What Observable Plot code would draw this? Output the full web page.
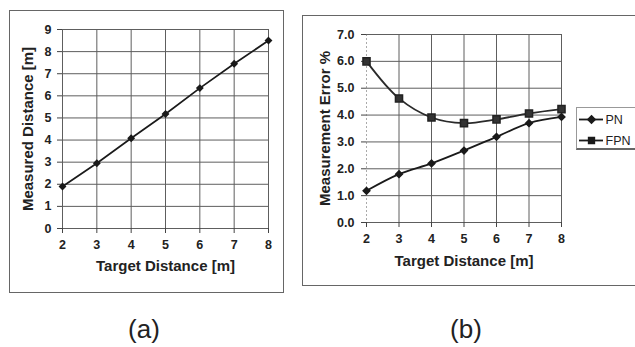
<!DOCTYPE html>
<html>
<head>
<meta charset="utf-8">
<script src="https://cdn.jsdelivr.net/npm/d3@7"></script>
<script src="https://cdn.jsdelivr.net/npm/@observablehq/plot@0.6"></script>
<style>
  html, body { margin: 0; padding: 0; background: #fff; }
  body { width: 635px; height: 347px; position: relative; overflow: hidden; font-family: "Liberation Sans", Arial, sans-serif; }
  .frame { position: absolute; border: 1px solid #666; box-sizing: border-box; }
  .abs { position: absolute; }
  .panel-label { position: absolute; font-size: 26px; color: #222; transform: translateX(-50%); line-height: 1; }
  #legend { position: absolute; left: 576px; top: 107px; width: 70px; height: 43px; border: 1px solid #999; border-bottom: 2px solid #666; box-sizing: border-box; background: #fff; }
  #legend svg { display: block; overflow: visible; }
  svg text { font-family: "Liberation Sans", Arial, sans-serif; }
</style>
</head>
<body>
<div class="frame" style="left:9px;top:10px;width:275px;height:283px;"></div>
<div class="frame" style="left:302px;top:15px;width:340px;height:271px;"></div>
<div id="plotA" class="abs" style="left:10px;top:10px;"></div>
<div id="plotB" class="abs" style="left:302px;top:15px;"></div>
<div id="legend"></div>
<div class="panel-label" style="left:144px;top:316px;">(a)</div>
<div class="panel-label" style="left:466px;top:316px;">(b)</div>
<script>
// ---- data ----
const targetDistance = [2, 3, 4, 5, 6, 7, 8];
const measuredDistance = [1.9, 2.95, 4.08, 5.18, 6.35, 7.45, 8.5];
const errorPN = [1.18, 1.8, 2.2, 2.68, 3.19, 3.7, 3.93];
const errorFPN = [6.0, 4.62, 3.91, 3.7, 3.84, 4.06, 4.22];
const yTicksA = [0, 1, 2, 3, 4, 5, 6, 7, 8, 9];
const yTicksB = [0, 1, 2, 3, 4, 5, 6, 7];
const seriesNames = ["PN", "FPN"];
const xTitle = "Target Distance [m]";
const yTitleA = "Measured Distance [m]";
const yTitleB = "Measurement Error %";

const dataA = targetDistance.map((x, i) => ({x, y: measuredDistance[i]}));
const dataPN = targetDistance.map((x, i) => ({x, y: errorPN[i]}));
const dataFPN = targetDistance.map((x, i) => ({x, y: errorFPN[i]}));

const ink = "#1a1a1a";
const gridColor = "#5e5e5e";

const plotA = Plot.plot({
  width: 273, height: 282,
  marginLeft: 52, marginRight: 15, marginTop: 19, marginBottom: 64,
  style: {background: "transparent", fontFamily: "Liberation Sans, Arial, sans-serif"},
  x: {domain: [2, 8]},
  y: {domain: [0, 9]},
  marks: [
    Plot.gridX(targetDistance, {stroke: gridColor, strokeOpacity: 1}),
    Plot.gridY(yTicksA, {stroke: gridColor, strokeOpacity: 1}),
    Plot.axisX(targetDistance, {tickSize: 5, tickPadding: 7, fontWeight: "bold", fontSize: 12.5, fill: "#222", stroke: "#444", label: null}),
    Plot.axisY(yTicksA, {tickSize: 5, tickPadding: 6, fontWeight: "bold", fontSize: 12.5, fill: "#222", stroke: "#444", label: null}),
    Plot.line(dataA, {x: "x", y: "y", stroke: ink, strokeWidth: 1.7}),
    Plot.dot(dataA, {x: "x", y: "y", symbol: "diamond2", r: 2.6, fill: ink, stroke: ink}),
    Plot.text([xTitle], {frameAnchor: "bottom", dy: 42, text: d => d, fontSize: 15, fontWeight: "bold", fill: "#222"}),
    Plot.text([yTitleA], {frameAnchor: "left", dx: -34, rotate: -90, textAnchor: "middle", text: d => d, fontSize: 15, fontWeight: "bold", fill: "#222"})
  ]
});
document.getElementById("plotA").appendChild(plotA);

const plotB = Plot.plot({
  width: 274, height: 270,
  marginLeft: 64, marginRight: 15, marginTop: 19, marginBottom: 63,
  style: {background: "transparent", fontFamily: "Liberation Sans, Arial, sans-serif"},
  x: {domain: [2, 8]},
  y: {domain: [0, 7]},
  marks: [
    Plot.gridX(targetDistance.slice(1), {stroke: gridColor, strokeOpacity: 1}),
    Plot.gridX([2], {stroke: "#aaa", strokeOpacity: 1, strokeDasharray: "2,2"}),
    Plot.gridY(yTicksB, {stroke: gridColor, strokeOpacity: 1}),
    Plot.axisX(targetDistance, {tickSize: 5, tickPadding: 7, fontWeight: "bold", fontSize: 12.5, fill: "#222", stroke: "#444", label: null}),
    Plot.axisY(yTicksB, {tickSize: 5, tickPadding: 7, tickFormat: d3.format(".1f"), fontWeight: "bold", fontSize: 12.5, fill: "#222", stroke: "#444", label: null}),
    Plot.line(dataFPN, {x: "x", y: "y", curve: "catmull-rom", stroke: "#2a2a2a", strokeWidth: 1.8}),
    Plot.line(dataPN, {x: "x", y: "y", curve: "catmull-rom", stroke: ink, strokeWidth: 1.8}),
    Plot.dot(dataPN, {x: "x", y: "y", symbol: "diamond2", r: 3, fill: ink, stroke: ink}),
    Plot.dot(dataFPN, {x: "x", y: "y", symbol: "square", r: 4, fill: "#333", stroke: "#222"}),
    Plot.text([xTitle], {frameAnchor: "bottom", dy: 43, text: d => d, fontSize: 15, fontWeight: "bold", fill: "#222"}),
    Plot.text([yTitleB], {frameAnchor: "left", dx: -41, rotate: -90, textAnchor: "middle", text: d => d, fontSize: 15, fontWeight: "bold", fill: "#222"})
  ]
});
document.getElementById("plotB").appendChild(plotB);

const legend = Plot.plot({
  width: 68, height: 40,
  margin: 0,
  style: {background: "transparent", fontFamily: "Liberation Sans, Arial, sans-serif"},
  x: {domain: [0, 1], range: [2, 26], axis: null},
  y: {type: "point", domain: seriesNames, range: [11, 32], padding: 0, axis: null},
  symbol: {domain: seriesNames, range: ["diamond2", "square"]},
  marks: [
    Plot.ruleY(seriesNames, {y: d => d, x1: 0, x2: 1, stroke: ink, strokeWidth: 1.8}),
    Plot.dot(seriesNames, {x: 0.5, y: d => d, symbol: d => d, r: 3.3, fill: ink, stroke: ink}),
    Plot.text(seriesNames, {x: 1, y: d => d, dx: 2, text: d => d, textAnchor: "start", fontSize: 12.5, fill: "#222"})
  ]
});
document.getElementById("legend").appendChild(legend);
</script>
</body>
</html>
